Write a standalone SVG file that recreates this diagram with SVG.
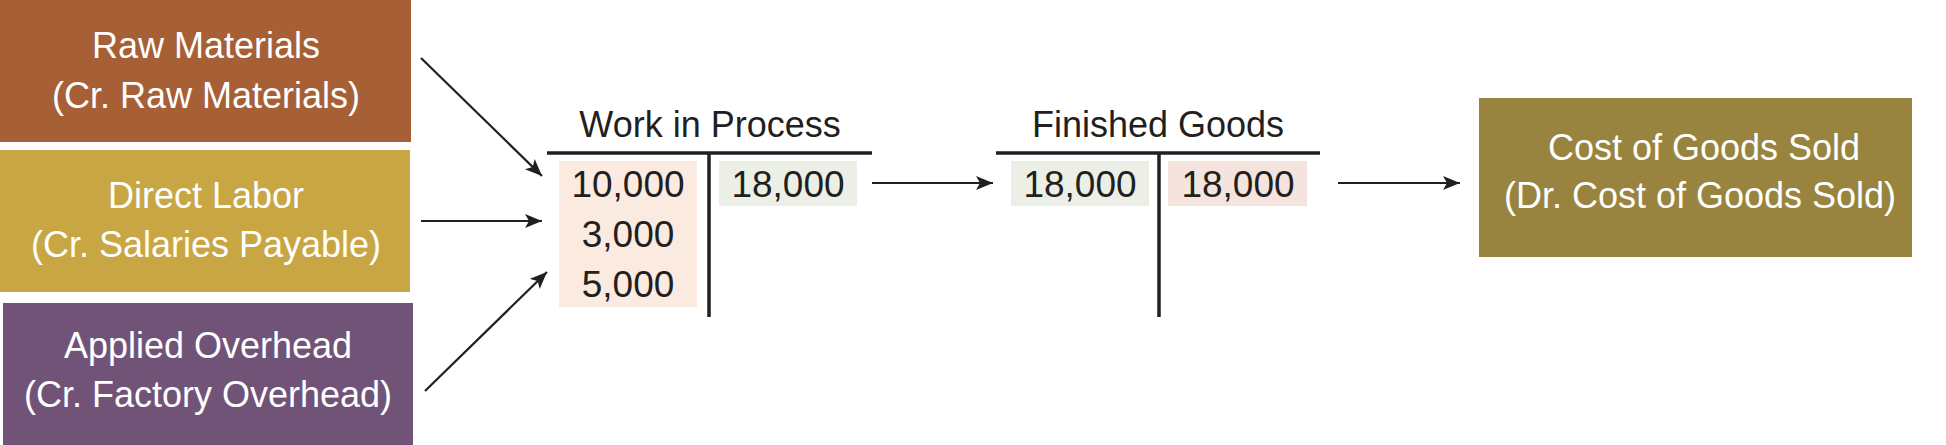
<svg xmlns="http://www.w3.org/2000/svg" width="1946" height="445" viewBox="0 0 1946 445">
  <style>
    .lbl { font-family: "Liberation Sans", Arial, sans-serif; font-size: 36px; fill: #ffffff; text-anchor: middle; }
    .num { font-family: "Liberation Sans", Arial, sans-serif; font-size: 37px; fill: #231f20; text-anchor: middle; }
    .ttl { font-family: "Liberation Sans", Arial, sans-serif; font-size: 36px; fill: #231f20; text-anchor: middle; }
    .tline { stroke: #231f20; stroke-width: 3.5; fill: none; }
    .conn { stroke: #231f20; stroke-width: 2.2; fill: none; marker-end: url(#arrow); }
  </style>
  <defs>
    <marker id="arrow" markerUnits="userSpaceOnUse" markerWidth="20" markerHeight="16" refX="17" refY="7" orient="auto">
      <path d="M0,0 L17,7 L0,14 L4,7 Z" fill="#231f20"/>
    </marker>
  </defs>
  <rect width="1946" height="445" fill="#ffffff"/>

  <g id="raw-materials">
    <rect x="0" y="0" width="411" height="142" fill="#a75f36"/>
    <text class="lbl" x="206" y="58">Raw Materials</text>
    <text class="lbl" x="206" y="108">(Cr. Raw Materials)</text>
  </g>

  <g id="direct-labor">
    <rect x="0" y="150" width="410" height="142" fill="#c8a644"/>
    <text class="lbl" x="206" y="208">Direct Labor</text>
    <text class="lbl" x="206" y="257">(Cr. Salaries Payable)</text>
  </g>

  <g id="applied-overhead">
    <rect x="3" y="303" width="410" height="142" fill="#725378"/>
    <text class="lbl" x="208" y="358">Applied Overhead</text>
    <text class="lbl" x="208" y="407">(Cr. Factory Overhead)</text>
  </g>

  <g id="work-in-process">
    <text class="ttl" x="710" y="137">Work in Process</text>
    <rect x="559" y="161" width="138" height="146" fill="#faeae0"/>
    <rect x="719" y="161" width="138" height="45" fill="#ecefe6"/>
    <line class="tline" x1="547" y1="153" x2="872" y2="153"/>
    <line class="tline" x1="709" y1="153" x2="709" y2="317"/>
    <text class="num" x="628" y="197">10,000</text>
    <text class="num" x="628" y="247">3,000</text>
    <text class="num" x="628" y="297">5,000</text>
    <text class="num" x="788" y="197">18,000</text>
  </g>

  <g id="finished-goods">
    <text class="ttl" x="1158" y="137">Finished Goods</text>
    <rect x="1011" y="161" width="138" height="45" fill="#ecefe6"/>
    <rect x="1168" y="161" width="139" height="45" fill="#f5e4dd"/>
    <line class="tline" x1="996" y1="153" x2="1320" y2="153"/>
    <line class="tline" x1="1159" y1="153" x2="1159" y2="317"/>
    <text class="num" x="1080" y="197">18,000</text>
    <text class="num" x="1238" y="197">18,000</text>
  </g>

  <g id="cost-of-goods-sold">
    <rect x="1479" y="98" width="433" height="159" fill="#98843e"/>
    <text class="lbl" x="1704" y="160">Cost of Goods Sold</text>
    <text class="lbl" x="1700" y="208">(Dr. Cost of Goods Sold)</text>
  </g>

  <g id="connectors">
    <line class="conn" x1="421" y1="58" x2="542" y2="176"/>
    <line class="conn" x1="421" y1="221" x2="542" y2="221"/>
    <line class="conn" x1="425" y1="391" x2="547" y2="272"/>
    <line class="conn" x1="872" y1="183" x2="993" y2="183"/>
    <line class="conn" x1="1338" y1="183" x2="1460" y2="183"/>
  </g>
</svg>
